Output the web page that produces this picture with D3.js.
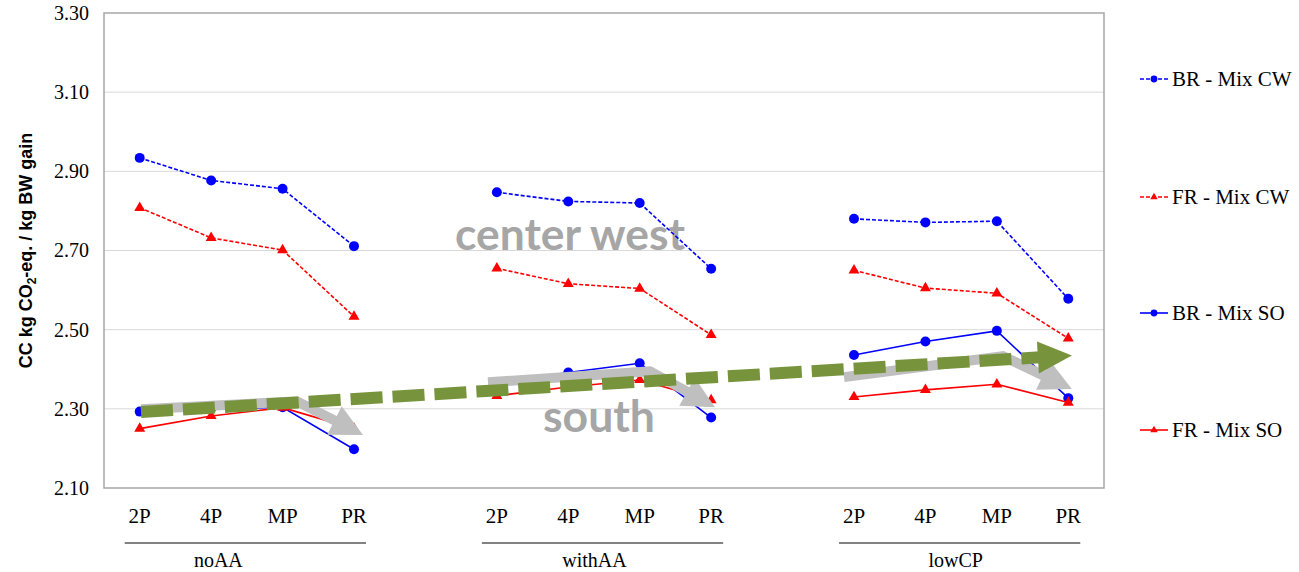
<!DOCTYPE html>
<html>
<head>
<meta charset="utf-8">
<script src="https://cdn.jsdelivr.net/npm/d3@7"></script>
<style>
  html, body { margin: 0; padding: 0; background: #fff; }
  svg { display: block; }
</style>
</head>
<body>
<svg id="chart" width="1299" height="572"></svg>
<script>
// ---- data -------------------------------------------------------------
const groups = ["noAA", "withAA", "lowCP"];
const categories = ["2P", "4P", "MP", "PR"];
const yTicks = [2.10, 2.30, 2.50, 2.70, 2.90, 3.10, 3.30];

// values per group, in category order (noAA, withAA, lowCP)
const brMixCW = [2.934, 2.877, 2.856, 2.711, 2.847, 2.824, 2.820, 2.654, 2.780, 2.771, 2.774, 2.578];
const frMixCW = [2.808, 2.732, 2.701, 2.533, 2.655, 2.616, 2.604, 2.487, 2.650, 2.605, 2.592, 2.478];
const brMixSO = [2.293, 2.300, 2.304, 2.198, 2.365, 2.392, 2.415, 2.278, 2.436, 2.470, 2.497, 2.327];
const frMixSO = [2.250, 2.282, 2.303, 2.250, 2.333, 2.355, 2.373, 2.322, 2.330, 2.348, 2.362, 2.316];

const seriesNames = ["BR - Mix CW", "FR - Mix CW", "BR - Mix SO", "FR - Mix SO"];
const seriesValues = [brMixCW, frMixCW, brMixSO, frMixSO];

// ---- layout -----------------------------------------------------------
const plot = { left: 104, right: 1104, top: 13, bottom: 488 };
const serif = "'Liberation Serif', 'Times New Roman', serif";
const sans = "'Liberation Sans', Arial, sans-serif";

const seriesStyle = [
  { color: "#0000ff", dash: "4,2", symbol: d3.symbolCircle, size: 78, legendSize: 36 },
  { color: "#ff0000", dash: "4,2", symbol: d3.symbolTriangle, size: 52, legendSize: 24 },
  { color: "#0000ff", dash: null, symbol: d3.symbolCircle, size: 78, legendSize: 36 },
  { color: "#ff0000", dash: null, symbol: d3.symbolTriangle, size: 52, legendSize: 24 }
];

// category slots: four per group with one empty slot between groups
const slots = [];
groups.forEach((g, gi) => {
  categories.forEach(c => slots.push(g + "|" + c));
  if (gi < groups.length - 1) slots.push("gap" + gi);
});

const svg = d3.select("#chart");

const x = d3.scaleBand().domain(slots).range([plot.left, plot.right]).padding(0);
const xc = key => x(key) + x.bandwidth() / 2;
// fractional slot position, used for the overlay arrows
const xs = d3.scaleLinear().domain([-0.5, slots.length - 0.5]).range([plot.left, plot.right]);
const y = d3.scaleLinear().domain([2.10, 3.30]).range([plot.bottom, plot.top]);

// ---- gridlines & frame --------------------------------------------------
svg.append("g")
  .selectAll("line")
  .data(yTicks.slice(1, -1))
  .join("line")
  .attr("x1", plot.left).attr("x2", plot.right)
  .attr("y1", d => y(d)).attr("y2", d => y(d))
  .attr("stroke", "#d9d9d9").attr("stroke-width", 1);

svg.append("rect")
  .attr("x", plot.left).attr("y", plot.top)
  .attr("width", plot.right - plot.left).attr("height", plot.bottom - plot.top)
  .attr("fill", "none").attr("stroke", "#a6a6a6").attr("stroke-width", 1.5);

// ---- axes -------------------------------------------------------------
const yAxis = svg.append("g")
  .attr("transform", `translate(${plot.left},0)`)
  .call(d3.axisLeft(y).tickValues(yTicks).tickFormat(d3.format(".2f")).tickSize(0).tickPadding(15));
yAxis.select(".domain").remove();
yAxis.attr("font-family", serif).attr("font-size", 20);
yAxis.selectAll("text")
  .style("font-family", serif).style("font-size", "20px").attr("fill", "#000");

const xAxis = svg.append("g")
  .attr("transform", `translate(0,${plot.bottom})`)
  .call(d3.axisBottom(x)
    .tickValues(slots.filter(s => s.includes("|")))
    .tickFormat(s => s.split("|")[1])
    .tickSize(0).tickPadding(20));
xAxis.select(".domain").remove();
xAxis.attr("font-family", serif).attr("font-size", 21);
xAxis.selectAll("text")
  .style("font-family", serif).style("font-size", "21px").attr("fill", "#000");

// group brackets below the category labels
const groupLabelShift = [-27, -8, -4];
groups.forEach((g, gi) => {
  const x0 = xc(g + "|" + categories[0]) - 15;
  const x1 = xc(g + "|" + categories[categories.length - 1]) + 12;
  svg.append("line")
    .attr("x1", x0).attr("x2", x1)
    .attr("y1", 543).attr("y2", 543)
    .attr("stroke", "#595959").attr("stroke-width", 1.3);
  svg.append("text")
    .attr("x", (x0 + x1) / 2 + groupLabelShift[gi]).attr("y", 567)
    .attr("text-anchor", "middle")
    .style("font-family", serif).style("font-size", "20px")
    .text(g);
});

// axis title
const title = svg.append("text")
  .attr("transform", `translate(32,${(plot.top + plot.bottom) / 2}) rotate(-90)`)
  .attr("text-anchor", "middle")
  .style("font-family", sans).style("font-size", "18px").style("font-weight", "bold");
title.append("tspan").text("CC kg CO");
title.append("tspan").style("font-size", "12px").attr("dy", 4).text("2");
title.append("tspan").attr("dy", -4).text("-eq. / kg BW gain");

// ---- region labels ----------------------------------------------------
const regionFont = "Lato, 'Open Sans', sans-serif";
svg.append("text")
  .attr("x", 455).attr("y", 250)
  .style("font-family", regionFont).style("font-weight", "bold").style("font-size", "43px")
  .attr("fill", "#a6a6a6")
  .attr("textLength", 230).attr("lengthAdjust", "spacingAndGlyphs")
  .text("center west");
svg.append("text")
  .attr("x", 543).attr("y", 432)
  .style("font-family", regionFont).style("font-weight", "bold").style("font-size", "44px")
  .attr("fill", "#a6a6a6")
  .attr("textLength", 112).attr("lengthAdjust", "spacingAndGlyphs")
  .text("south");

// ---- series lines & markers ------------------------------------------
const line = d3.line().x(d => xc(d.key)).y(d => y(d.value));

seriesValues.forEach((vals, si) => {
  const st = seriesStyle[si];
  const g = svg.append("g");
  groups.forEach((grp, gi) => {
    const pts = categories.map((c, ci) => ({ key: grp + "|" + c, value: vals[gi * categories.length + ci] }));
    g.append("path")
      .datum(pts)
      .attr("d", line)
      .attr("fill", "none")
      .attr("stroke", st.color)
      .attr("stroke-width", 1.6)
      .attr("stroke-dasharray", st.dash);
    g.selectAll(null)
      .data(pts)
      .join("path")
      .attr("transform", d => `translate(${xc(d.key)},${y(d.value)})`)
      .attr("d", d3.symbol().type(st.symbol).size(st.size))
      .attr("fill", st.color);
  });
});

// ---- overlay arrows ---------------------------------------------------
function arrowPath(points, headLen, headWidth) {
  // points are [slot, value]; returns shaft points and head polygon in px
  const px = points.map(p => [xs(p[0]), y(p[1])]);
  const tip = px[px.length - 1];
  const prev = px[px.length - 2];
  const dx = tip[0] - prev[0], dy = tip[1] - prev[1];
  const len = Math.hypot(dx, dy);
  const ux = dx / len, uy = dy / len;
  const base = [tip[0] - ux * headLen, tip[1] - uy * headLen];
  const shaft = px.slice(0, -1).concat([[base[0] + ux * 2, base[1] + uy * 2]]);
  const head = [
    tip,
    [base[0] - uy * headWidth / 2, base[1] + ux * headWidth / 2],
    [base[0] + uy * headWidth / 2, base[1] - ux * headWidth / 2]
  ];
  return { shaft, head };
}

const grayArrows = [
  [[0.018, 2.299], [2.20, 2.319], [3.126, 2.234]],
  [[4.876, 2.367], [7.144, 2.395], [8.054, 2.304]],
  [[9.86, 2.380], [12.086, 2.433], [13.05, 2.350]]
];
grayArrows.forEach(pts => {
  const a = arrowPath(pts, 32, 32);
  svg.append("path")
    .attr("d", d3.line()(a.shaft))
    .attr("fill", "none").attr("stroke", "#bfbfbf").attr("stroke-width", 10)
    .attr("stroke-linejoin", "miter");
  svg.append("path")
    .attr("d", "M" + a.head.join("L") + "Z")
    .attr("fill", "#bfbfbf");
});

const trend = arrowPath([[0.018, 2.292], [13.05, 2.435]], 34, 32);
svg.append("path")
  .attr("d", d3.line()(trend.shaft))
  .attr("fill", "none").attr("stroke", "#77933c").attr("stroke-width", 12)
  .attr("stroke-dasharray", "32,10");
svg.append("path")
  .attr("d", "M" + trend.head.join("L") + "Z")
  .attr("fill", "#77933c");

// ---- legend -----------------------------------------------------------
const legendY = [79, 197, 313, 430];
const legend = svg.append("g");
seriesNames.forEach((name, si) => {
  const st = seriesStyle[si];
  const ly = legendY[si];
  legend.append("line")
    .attr("x1", 1140).attr("x2", 1168).attr("y1", ly).attr("y2", ly)
    .attr("stroke", st.color).attr("stroke-width", 1.6)
    .attr("stroke-dasharray", st.dash);
  legend.append("path")
    .attr("transform", `translate(1154,${ly})`)
    .attr("d", d3.symbol().type(st.symbol).size(st.legendSize))
    .attr("fill", st.color);
  legend.append("text")
    .attr("x", 1172).attr("y", ly + 7)
    .style("font-family", serif).style("font-size", "21px")
    .text(name);
});
</script>
</body>
</html>
